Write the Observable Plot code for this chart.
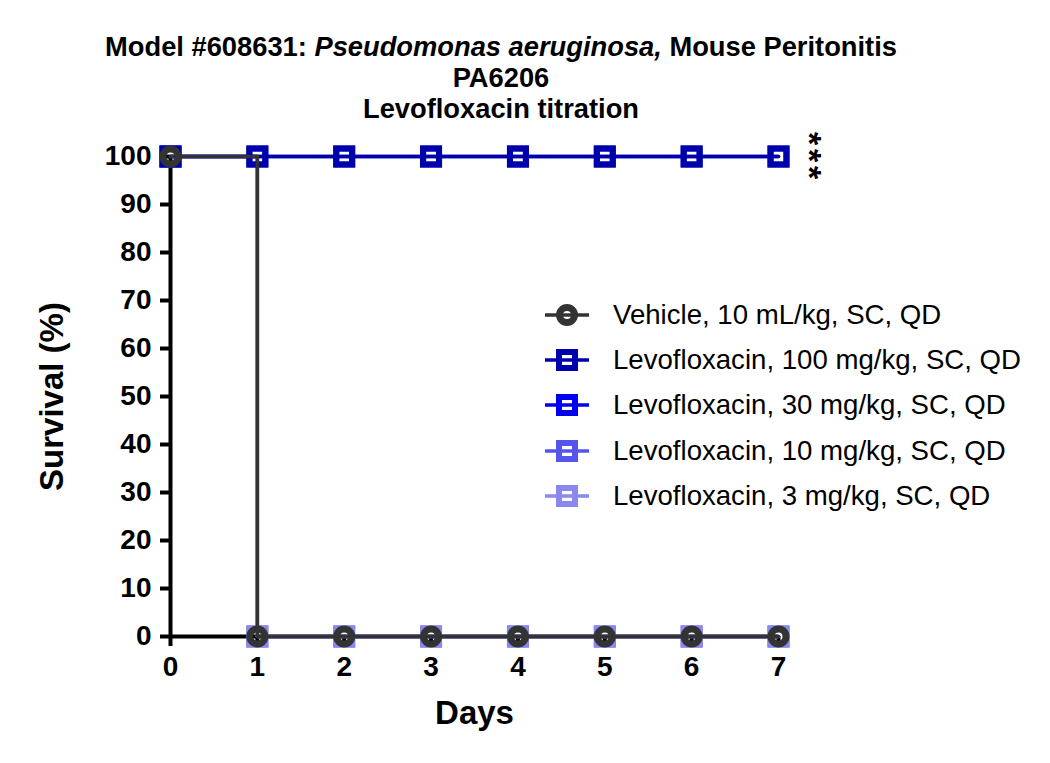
<!DOCTYPE html>
<html>
<head>
<meta charset="utf-8">
<script src="https://cdn.jsdelivr.net/npm/d3@7"></script>
<script src="https://cdn.jsdelivr.net/npm/@observablehq/plot@0.6"></script>
<style>
  html, body { margin: 0; padding: 0; background: white; }
  #wrap { position: relative; width: 1050px; height: 763px; font-family: "Liberation Sans", Arial, sans-serif; }
  #title { width: 1002px; height: 125px; box-sizing: border-box; padding-top: 31px; text-align: center; font-weight: bold; font-size: 27.3px; line-height: 31px; color: black; }
  #legend { position: absolute; left: 545px; top: 292px; }
  .row { height: 45.3px; display: flex; align-items: center; font-size: 27.6px; color: black; white-space: nowrap; }
  .row svg { width: 44px; height: 26px; margin-right: 24px; overflow: visible; }
</style>
</head>
<body>
<div id="wrap">
  <div id="title">
    <div>Model #608631: <i>Pseudomonas aeruginosa,</i> Mouse Peritonitis</div>
    <div>PA6206</div>
    <div>Levofloxacin titration</div>
  </div>
  <div id="chart"></div>
  <div id="legend"></div>
</div>
<script>
// ---- data ----
const days = [0, 1, 2, 3, 4, 5, 6, 7];
const vehicle  = [100, 0, 0, 0, 0, 0, 0, 0];
const levo100  = [100, 100, 100, 100, 100, 100, 100, 100];
const levo30   = [100, 100, 100, 100, 100, 100, 100, 100];
const levo10   = [100, 0, 0, 0, 0, 0, 0, 0];
const levo3    = [100, 0, 0, 0, 0, 0, 0, 0];
const seriesNames = [
  "Vehicle, 10 mL/kg, SC, QD",
  "Levofloxacin, 100 mg/kg, SC, QD",
  "Levofloxacin, 30 mg/kg, SC, QD",
  "Levofloxacin, 10 mg/kg, SC, QD",
  "Levofloxacin, 3 mg/kg, SC, QD"
];
const seriesValues = [vehicle, levo100, levo30, levo10, levo3];
const seriesColors = ["#333333", "#0000aa", "#0000ee", "#5555ee", "#8888ee"];
const seriesSymbols = ["circle", "square", "square", "square", "square"];
const drawOrder = [3, 4, 2, 1, 0];
const yTicks = [0, 10, 20, 30, 40, 50, 60, 70, 80, 90, 100];
const annotations = [{day: 7, survival: 100, label: "***"}];

const series = seriesNames.map((name, i) => ({
  name, color: seriesColors[i], symbol: seriesSymbols[i],
  rows: days.map((d, j) => ({day: d, survival: seriesValues[i][j], name}))
}));

const marks = [
  Plot.ruleX([0], {y1: 0, y2: 100, stroke: "black", strokeWidth: 4}),
  Plot.ruleY([0], {x1: 0, x2: 7, stroke: "black", strokeWidth: 4}),
  Plot.axisY(yTicks, {tickSize: 10, tickPadding: 9, fontSize: 28, fontWeight: "bold", strokeWidth: 4, label: null}),
  Plot.axisX(days, {tickSize: 10, tickPadding: 10, fontSize: 28, fontWeight: "bold", strokeWidth: 4, label: null}),
];
for (const i of drawOrder) {
  const s = series[i];
  marks.push(Plot.line(s.rows, {x: "day", y: "survival", curve: "step-after", stroke: s.color, strokeWidth: 3.5}));
  marks.push(Plot.dot(s.rows, {x: "day", y: "survival", symbol: () => s.symbol, r: s.symbol === "circle" ? 7.5 : 9.0, stroke: s.color, strokeWidth: s.symbol === "circle" ? 7 : 6, fill: "none"}));
}
marks.push(Plot.text(annotations, {x: "day", y: "survival", text: "label", dx: 30, dy: 1, rotate: 90, fontSize: 34, fontWeight: "bold", textAnchor: "middle", lineAnchor: "middle"}));
marks.push(Plot.text(["Survival (%)"], {frameAnchor: "left", dx: -118, rotate: -90, textAnchor: "middle", fontSize: 33, fontWeight: "bold"}));
marks.push(Plot.text(["Days"], {frameAnchor: "bottom", dy: 87, textAnchor: "middle", fontSize: 33, fontWeight: "bold"}));

const chart = Plot.plot({
  width: 1050, height: 638,
  marginTop: 31, marginBottom: 127, marginLeft: 170, marginRight: 272,
  x: {domain: [0, 7], axis: null},
  y: {domain: [0, 100], axis: null},
  symbol: {type: "identity"},
  style: {fontFamily: "'Liberation Sans', Arial, sans-serif", color: "black", background: "white", overflow: "visible"},
  marks
});
d3.select(chart).selectAll("text")
  .filter(function() { return this.textContent === "***"; })
  .style("letter-spacing", "3.8px");
document.getElementById("chart").appendChild(chart);

// ---- legend ----
const legend = document.getElementById("legend");
series.forEach(s => {
  const row = document.createElement("div");
  row.className = "row";
  const sym = s.symbol === "circle"
    ? `<circle cx="22" cy="13" r="7.5" fill="none" stroke="${s.color}" stroke-width="7"/>`
    : `<rect x="14" y="5" width="16" height="16" fill="none" stroke="${s.color}" stroke-width="6"/>`;
  row.innerHTML = `<svg viewBox="0 0 44 26"><line x1="0" x2="44" y1="13" y2="13" stroke="${s.color}" stroke-width="3.5"/>${sym}</svg><span></span>`;
  row.querySelector("span").textContent = s.name;
  legend.appendChild(row);
});
</script>
</body>
</html>
